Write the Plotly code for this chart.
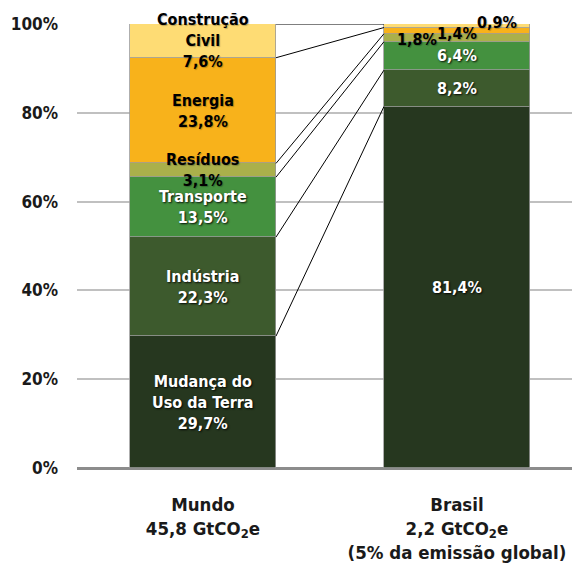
import plotly.graph_objects as go

categories = ["Mundo", "Brasil"]
category_labels = ["Mundo<br>45,8 GtCO<sub>2</sub>e",
                   "Brasil<br>2,2 GtCO<sub>2</sub>e<br>(5% da emissão global)"]
sectors = ["Mudança do<br>Uso da Terra", "Indústria", "Transporte", "Resíduos", "Energia", "Construção<br>Civil"]
mundo = [29.7, 22.3, 13.5, 3.1, 23.8, 7.6]
brasil = [81.4, 8.2, 6.4, 1.8, 1.4, 0.9]
colors = ["#26371f", "#3d5a2d", "#44913f", "#aab04b", "#f8b21b", "#fedc74"]
text_colors = ["white", "white", "white", "black", "black", "black"]
y_ticks = [0, 20, 40, 60, 80, 100]
y_tick_labels = ["0%", "20%", "40%", "60%", "80%", "100%"]

FONT = "DejaVu Sans Condensed, sans-serif"
BAR_W = 0.575

def fmt(v):
    return f"{v:.1f}".replace(".", ",") + "%"

fig = go.Figure()
for i, s in enumerate(sectors):
    fig.add_trace(go.Bar(
        x=[0, 1], y=[mundo[i], brasil[i]], name=s.replace("<br>", " "),
        marker=dict(color=colors[i], line=dict(color="#9a9a9a", width=0.8)),
        width=BAR_W, showlegend=False, hoverinfo="skip"))

cm, cb = [0], [0]
for a, b in zip(mundo, brasil):
    cm.append(cm[-1] + a)
    cb.append(cb[-1] + b)

for k in range(1, len(cm)):
    fig.add_shape(type="line", x0=0 + BAR_W / 2, x1=1 - BAR_W / 2,
                  y0=min(cm[k], 100), y1=min(cb[k], 100),
                  line=dict(color="black", width=1), layer="above")

shadow_w = "1px 1px 2px rgba(0,0,0,0.9)"
shadow_b = "1px 1px 1px rgba(0,0,0,0.25)"
for i, s in enumerate(sectors):
    mid = cm[i] + mundo[i] / 2
    fig.add_annotation(x=0, y=mid, text=f"{s}<br>{fmt(mundo[i])}", showarrow=False,
                       font=dict(family=FONT, size=16, color=text_colors[i],
                                 weight="bold",
                                 shadow=shadow_w if text_colors[i] == "white" else shadow_b),
                       align="center")
xshifts = [0, 0, 0, -40, 0, 40]
yshifts = [0, 0, 0, -2, -3, 3]
for i in range(len(sectors)):
    mid = cb[i] + brasil[i] / 2
    fig.add_annotation(x=1, y=mid, text=fmt(brasil[i]), showarrow=False,
                       xshift=xshifts[i], yshift=yshifts[i],
                       font=dict(family=FONT, size=16, color=text_colors[i],
                                 weight="bold",
                                 shadow=shadow_w if text_colors[i] == "white" else shadow_b))

fig.update_layout(
    width=578, height=572,
    margin=dict(l=77, r=6, t=24, b=104),
    plot_bgcolor="white", paper_bgcolor="white",
    barmode="stack", bargap=0,
    font=dict(family=FONT, size=17, color="#1a1a1a", weight="bold"),
    xaxis=dict(range=[-0.496, 1.453], tickvals=[0, 1], ticktext=category_labels,
               showgrid=False, zeroline=False, showline=False, ticks="",
               ticklabelstandoff=23, tickfont=dict(size=18.5, weight="bold")),
    yaxis=dict(range=[0, 100], tickvals=y_ticks, ticktext=y_tick_labels,
               showgrid=True, gridcolor="#c0c0c0", gridwidth=1.5,
               zeroline=True, zerolinecolor="#8c8c8c", zerolinewidth=2.5,
               showline=False, ticks="", ticklabelstandoff=18,
               tickfont=dict(size=17, weight="bold")),
)

fig.write_html("out.html")
